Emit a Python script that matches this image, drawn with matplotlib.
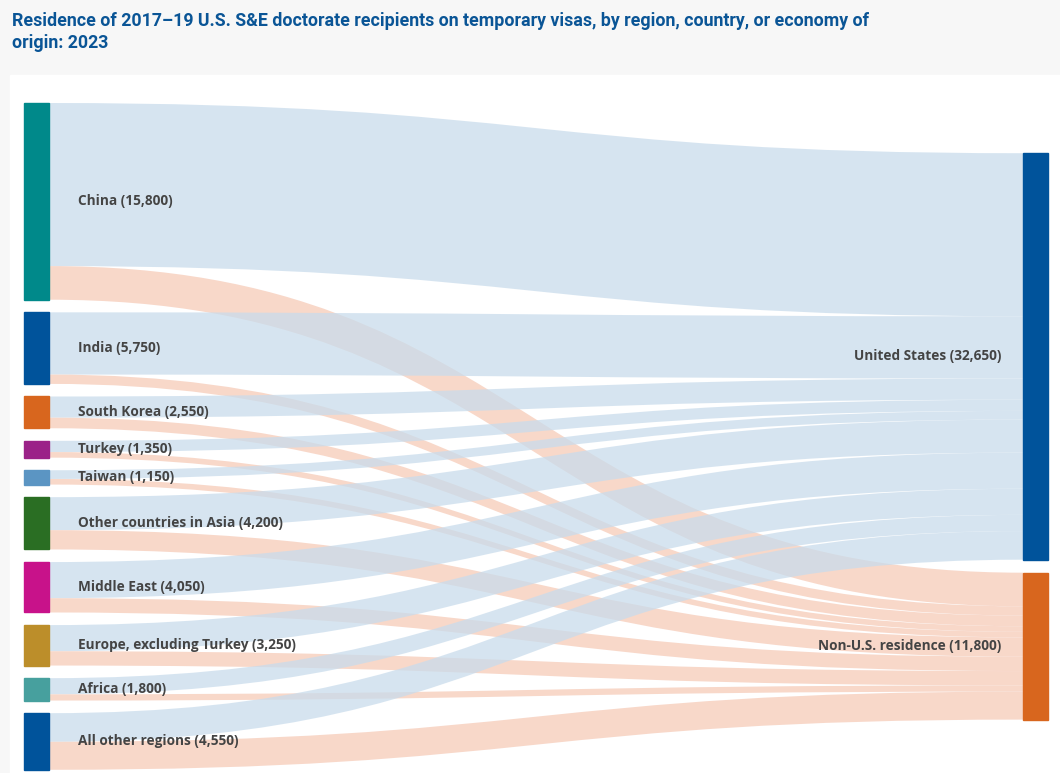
import matplotlib.pyplot as plt
from matplotlib.path import Path
from matplotlib.patches import PathPatch, Rectangle

# Source regions and their split by residence (counts)
sources = ['China', 'India', 'South Korea', 'Turkey', 'Taiwan', 'Other countries in Asia',
           'Middle East', 'Europe, excluding Turkey', 'Africa', 'All other regions']
totals = [15800, 5750, 2550, 1350, 1150, 4200, 4050, 3250, 1800, 4550]
to_us = [13100, 5000, 1700, 900, 700, 2650, 2900, 2100, 1300, 2300]
to_non_us = [t - u for t, u in zip(totals, to_us)]
targets = ['United States', 'Non-U.S. residence']
src_colors = ['#00898a', '#00539b', '#d8661e', '#9b2288', '#5b95c3', '#2a6e23',
              '#c8128a', '#bc8e2a', '#47a09e', '#00539b']
tgt_colors = ['#00539b', '#d8661e']
link_colors = ['#c9dcec', '#f6cbb8']

fig = plt.figure(figsize=(10.6, 7.73), dpi=100)
fig.patch.set_facecolor('#f7f7f7')
ax = fig.add_axes([0, 0, 1, 1])
ax.set_xlim(0, 1060)
ax.set_ylim(773, 0)
ax.axis('off')
ax.add_patch(Rectangle((10, 75), 1050, 698, color='white', zorder=0))

fig.text(0.011, 0.985, 'Residence of 2017\u201319 U.S. S&E doctorate recipients on temporary visas, by region, country, or economy of\norigin: 2023',
         ha='left', va='top', fontsize=12.8, fontweight='bold', color='#0a5596',
         linespacing=1.3, family='Roboto')

scale = 12.45 / 1000
gap = 12.6
lx0, lx1 = 24, 49
rx0, rx1 = 1023, 1048

# left nodes
ltop = []
y = 103
for t in totals:
    ltop.append(y)
    y += t * scale + gap
left_span = y - gap - 103
center = 103 + left_span / 2

tgt_totals = [sum(to_us), sum(to_non_us)]
right_span = sum(tgt_totals) * scale + 13
rtop = [center - right_span / 2]
rtop.append(rtop[0] + tgt_totals[0] * scale + 13)

def band(x0, y0, x1, y1, h, color):
    xm = (x0 + x1) / 2
    verts = [(x0, y0), (xm, y0), (xm, y1), (x1, y1), (x1, y1 + h),
             (xm, y1 + h), (xm, y0 + h), (x0, y0 + h), (x0, y0)]
    codes = [Path.MOVETO, Path.CURVE4, Path.CURVE4, Path.CURVE4, Path.LINETO,
             Path.CURVE4, Path.CURVE4, Path.CURVE4, Path.CLOSEPOLY]
    ax.add_patch(PathPatch(Path(verts, codes), facecolor=color, edgecolor='none',
                           alpha=0.75, zorder=1))

rpos = list(rtop)
for i in range(len(sources)):
    sy = ltop[i]
    for k, v in enumerate([to_us[i], to_non_us[i]]):
        h = v * scale
        band(lx1, sy, rx0, rpos[k], h, link_colors[k])
        sy += h
        rpos[k] += h

for i, name in enumerate(sources):
    h = totals[i] * scale
    ax.add_patch(Rectangle((lx0, ltop[i]), lx1 - lx0, h, color=src_colors[i], zorder=2))
    ax.text(lx1 + 29, ltop[i] + h / 2, f'{name} ({totals[i]:,})', ha='left', va='center',
            fontsize=9.8, fontweight='bold', color='#444444', zorder=3, family='Open Sans')

for k, name in enumerate(targets):
    h = tgt_totals[k] * scale
    ax.add_patch(Rectangle((rx0, rtop[k]), rx1 - rx0, h, color=tgt_colors[k], zorder=2))
    ax.text(rx0 - 22, rtop[k] + h / 2, f'{name} ({tgt_totals[k]:,})', ha='right', va='center',
            fontsize=9.8, fontweight='bold', color='#444444', zorder=3, family='Open Sans')

fig.savefig('out.png', dpi=100, facecolor=fig.get_facecolor())
